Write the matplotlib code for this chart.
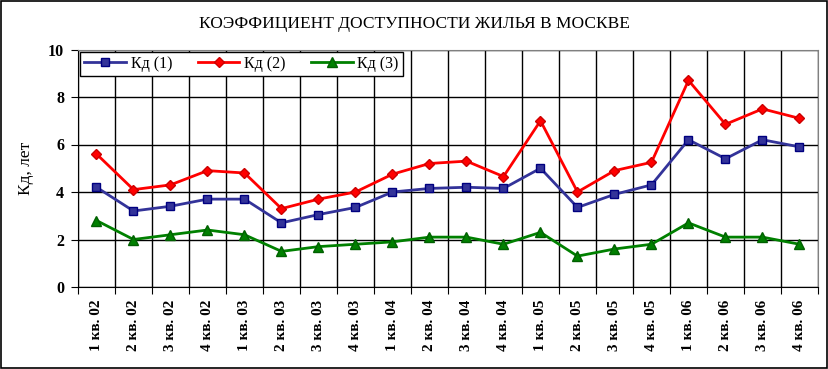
import numpy as np
import matplotlib
matplotlib.use('Agg')
import matplotlib.pyplot as plt
from matplotlib.patches import Rectangle

# данные
quarters = ['1 кв. 02', '2 кв. 02', '3 кв. 02', '4 кв. 02',
            '1 кв. 03', '2 кв. 03', '3 кв. 03', '4 кв. 03',
            '1 кв. 04', '2 кв. 04', '3 кв. 04', '4 кв. 04',
            '1 кв. 05', '2 кв. 05', '3 кв. 05', '4 кв. 05',
            '1 кв. 06', '2 кв. 06', '3 кв. 06', '4 кв. 06']
kd1 = [4.2, 3.2, 3.4, 3.7, 3.7, 2.7, 3.05, 3.35, 4.0, 4.15,
       4.2, 4.15, 5.0, 3.35, 3.9, 4.3, 6.2, 5.4, 6.2, 5.9]
kd2 = [5.6, 4.1, 4.3, 4.9, 4.8, 3.3, 3.7, 4.0, 4.75, 5.2,
       5.3, 4.65, 7.0, 4.0, 4.9, 5.25, 8.7, 6.85, 7.5, 7.1]
kd3 = [2.8, 2.0, 2.2, 2.4, 2.2, 1.5, 1.7, 1.8, 1.9, 2.1,
       2.1, 1.8, 2.3, 1.3, 1.6, 1.8, 2.7, 2.1, 2.1, 1.8]

plt.rcParams['font.family'] = ['Liberation Serif', 'DejaVu Serif']

fig = plt.figure(figsize=(8.29, 3.69), dpi=100)
ax = fig.add_axes([78/829, 1-287/369, (818-78)/829, (287-49.5)/369])

x = np.arange(len(quarters))
ax.plot(x, kd1, color='#333399', lw=2, marker='s', ms=5.5,
        mfc='#333399', mec='#000080', label='Кд (1)')
ax.plot(x, kd2, color='#ff0000', lw=2, marker='D', ms=5,
        mfc='#ff0000', mec='#cc0000', label='Кд (2)')
ax.plot(x, kd3, color='#008000', lw=2, marker='^', ms=6.5,
        mfc='#008000', mec='#006000', label='Кд (3)')

ax.set_xlim(-0.5, len(quarters) - 0.5)
ax.set_ylim(0, 10)
ax.set_yticks(np.arange(0, 11, 2))
ax.set_xticks(np.arange(-0.5, len(quarters), 1.0))
ax.set_xticklabels([])
ax.set_xticks(x, minor=True)
ax.set_xticklabels(quarters, minor=True, rotation=90,
                   fontsize=11, fontweight='bold')
ax.tick_params(axis='x', which='minor', length=0, pad=9)
ax.tick_params(axis='x', which='major', length=5, direction='out', color='black')
ax.tick_params(axis='y', length=5, direction='out', labelsize=11.5, pad=5)
for lab in ax.get_yticklabels():
    lab.set_fontweight('bold')

ax.grid(True, which='major', color='black', lw=1)
ax.set_axisbelow(True)

for s in ['top', 'right']:
    ax.spines[s].set_color('#808080')
for s in ['left', 'bottom']:
    ax.spines[s].set_color('black')

ax.set_ylabel('Кд, лет', fontsize=12.5, labelpad=10)
fig.text(0.5, 1-24/369, 'КОЭФФИЦИЕНТ ДОСТУПНОСТИ ЖИЛЬЯ В МОСКВЕ',
         ha='center', va='center', fontsize=12.5)

leg = ax.legend(loc='upper left', ncol=3, fontsize=11.5, frameon=True,
                fancybox=False, edgecolor='black', framealpha=1,
                borderaxespad=0.15, handlelength=2.6, columnspacing=1.6,
                borderpad=0.25, handletextpad=0.3)
leg.get_frame().set_linewidth(1)

fig.patches.append(Rectangle((0.001, 0.002), 0.997, 0.995, transform=fig.transFigure,
                             fill=False, edgecolor='black', lw=1.2))

fig.savefig('out.png', dpi=100, facecolor='white')
